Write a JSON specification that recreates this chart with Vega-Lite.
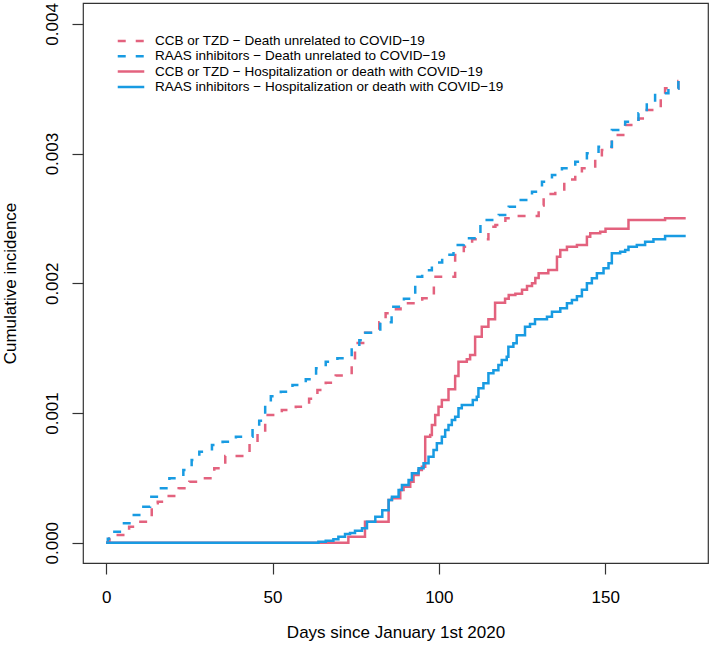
{
"$schema": "https://vega.github.io/schema/vega-lite/v6.json",
"width": 625, "height": 560,
"autosize": {"type": "none"},
"padding": {"left": 83, "top": 3, "right": 1, "bottom": 87},
"background": "white",
"config": {
  "font": "Liberation Sans",
  "view": {"stroke": "#333", "strokeWidth": 1.2},
  "axis": {"grid": false, "domain": false, "tickSize": 11, "tickColor": "#333", "tickWidth": 1.2, "labelColor": "black", "labelFontSize": 17, "titleFontSize": 17, "titleFontWeight": "normal", "titleColor": "black", "labelFlush": false, "labelOverlap": false}
},
"data": {"values": [
{"s":"PD","d":0,"v":0},{"s":"PD","d":1,"v":0.000034},{"s":"PD","d":2.5,"v":0.000059},{"s":"PD","d":6.9,"v":0.000123},{"s":"PD","d":9.8,"v":0.000162},{"s":"PD","d":13.7,"v":0.000304},{"s":"PD","d":15.5,"v":0.000316},{"s":"PD","d":18,"v":0.00036},{"s":"PD","d":21.8,"v":0.00042},{"s":"PD","d":25,"v":0.00047},{"s":"PD","d":29,"v":0.000497},{"s":"PD","d":32.5,"v":0.000574},{"s":"PD","d":35.8,"v":0.000668},{"s":"PD","d":43.1,"v":0.000766},{"s":"PD","d":45.5,"v":0.00085},{"s":"PD","d":47.8,"v":0.000985},{"s":"PD","d":52.8,"v":0.001023},{"s":"PD","d":57,"v":0.001049},{"s":"PD","d":61,"v":0.00111},{"s":"PD","d":63.5,"v":0.001177},{"s":"PD","d":66,"v":0.001234},{"s":"PD","d":69,"v":0.00129},{"s":"PD","d":73.8,"v":0.0014},{"s":"PD","d":74.8,"v":0.00154},{"s":"PD","d":77.8,"v":0.001619},{"s":"PD","d":82.1,"v":0.0017},{"s":"PD","d":84,"v":0.001769},{"s":"PD","d":86.4,"v":0.0018},{"s":"PD","d":88.5,"v":0.001846},{"s":"PD","d":95,"v":0.001884},{"s":"PD","d":98.5,"v":0.00205},{"s":"PD","d":104.9,"v":0.002218},{"s":"PD","d":107.5,"v":0.002282},{"s":"PD","d":110,"v":0.002339},{"s":"PD","d":114.9,"v":0.002436},{"s":"PD","d":117,"v":0.00245},{"s":"PD","d":120,"v":0.002501},{"s":"PD","d":123,"v":0.002518},{"s":"PD","d":130,"v":0.0026},{"s":"PD","d":131.5,"v":0.002689},{"s":"PD","d":135,"v":0.002706},{"s":"PD","d":137.7,"v":0.0028},{"s":"PD","d":141,"v":0.00285},{"s":"PD","d":143,"v":0.002887},{"s":"PD","d":147,"v":0.002964},{"s":"PD","d":149,"v":0.003028},{"s":"PD","d":152,"v":0.003143},{"s":"PD","d":156,"v":0.00322},{"s":"PD","d":160,"v":0.00327},{"s":"PD","d":162,"v":0.003336},{"s":"PD","d":166.7,"v":0.00345},{"s":"PD","d":168,"v":0.003504},{"s":"PD","d":172,"v":0.00356},{"s":"PD","d":174.2,"v":0.00356},
{"s":"RD","d":0,"v":0},{"s":"RD","d":0.5,"v":0.00003},{"s":"RD","d":1.7,"v":0.000085},{"s":"RD","d":4.7,"v":0.00015},{"s":"RD","d":7.5,"v":0.000213},{"s":"RD","d":10.5,"v":0.000278},{"s":"RD","d":13.2,"v":0.000355},{"s":"RD","d":16,"v":0.00042},{"s":"RD","d":19,"v":0.000497},{"s":"RD","d":23.2,"v":0.00056},{"s":"RD","d":25.7,"v":0.000638},{"s":"RD","d":28,"v":0.000702},{"s":"RD","d":31.8,"v":0.000753},{"s":"RD","d":35,"v":0.000779},{"s":"RD","d":39,"v":0.000817},{"s":"RD","d":44,"v":0.000882},{"s":"RD","d":46,"v":0.000941},{"s":"RD","d":47.8,"v":0.001087},{"s":"RD","d":49.5,"v":0.00113},{"s":"RD","d":52.5,"v":0.001164},{"s":"RD","d":56,"v":0.001216},{"s":"RD","d":60,"v":0.00126},{"s":"RD","d":63.1,"v":0.001345},{"s":"RD","d":66,"v":0.001396},{"s":"RD","d":69.5,"v":0.001422},{"s":"RD","d":73.8,"v":0.0015},{"s":"RD","d":76.1,"v":0.00156},{"s":"RD","d":77.5,"v":0.001619},{"s":"RD","d":82.4,"v":0.0017},{"s":"RD","d":85.8,"v":0.00182},{"s":"RD","d":89.5,"v":0.00188},{"s":"RD","d":92.9,"v":0.00205},{"s":"RD","d":95,"v":0.0021},{"s":"RD","d":97.9,"v":0.00216},{"s":"RD","d":101,"v":0.00222},{"s":"RD","d":104.4,"v":0.002295},{"s":"RD","d":107.5,"v":0.002347},{"s":"RD","d":112.5,"v":0.00245},{"s":"RD","d":114,"v":0.002488},{"s":"RD","d":118,"v":0.002527},{"s":"RD","d":121,"v":0.002591},{"s":"RD","d":124,"v":0.002642},{"s":"RD","d":128,"v":0.002706},{"s":"RD","d":131,"v":0.002783},{"s":"RD","d":134,"v":0.002835},{"s":"RD","d":137,"v":0.002887},{"s":"RD","d":141,"v":0.002938},{"s":"RD","d":144.5,"v":0.003002},{"s":"RD","d":148,"v":0.003053},{"s":"RD","d":152,"v":0.003182},{"s":"RD","d":156,"v":0.003246},{"s":"RD","d":160,"v":0.003311},{"s":"RD","d":162.5,"v":0.003388},{"s":"RD","d":165,"v":0.003465},{"s":"RD","d":169,"v":0.0035},{"s":"RD","d":172,"v":0.003567},{"s":"RD","d":174.2,"v":0.003567},
{"s":"PS","d":0,"v":0},{"s":"PS","d":72.8,"v":0.000046},{"s":"PS","d":77.8,"v":0.000162},{"s":"PS","d":84.9,"v":0.00033},{"s":"PS","d":85.9,"v":0.000342},{"s":"PS","d":88.4,"v":0.000406},{"s":"PS","d":89.4,"v":0.000432},{"s":"PS","d":91.4,"v":0.00047},{"s":"PS","d":92.4,"v":0.000522},{"s":"PS","d":93.9,"v":0.00056},{"s":"PS","d":94.9,"v":0.000586},{"s":"PS","d":95.9,"v":0.000817},{"s":"PS","d":97.4,"v":0.00083},{"s":"PS","d":97.9,"v":0.000907},{"s":"PS","d":98.9,"v":0.000985},{"s":"PS","d":99.9,"v":0.001049},{"s":"PS","d":100.9,"v":0.0011},{"s":"PS","d":102.9,"v":0.001183},{"s":"PS","d":104.9,"v":0.001285},{"s":"PS","d":105.9,"v":0.001396},{"s":"PS","d":108.4,"v":0.001414},{"s":"PS","d":109.4,"v":0.001447},{"s":"PS","d":110.9,"v":0.001588},{"s":"PS","d":112.9,"v":0.001665},{"s":"PS","d":114.9,"v":0.001722},{"s":"PS","d":116.9,"v":0.00185},{"s":"PS","d":119.9,"v":0.00188},{"s":"PS","d":121,"v":0.00191},{"s":"PS","d":123,"v":0.00192},{"s":"PS","d":125,"v":0.00195},{"s":"PS","d":126.5,"v":0.00198},{"s":"PS","d":128,"v":0.002},{"s":"PS","d":129,"v":0.00204},{"s":"PS","d":130,"v":0.002077},{"s":"PS","d":132.9,"v":0.002103},{"s":"PS","d":135.5,"v":0.002205},{"s":"PS","d":136.5,"v":0.002257},{"s":"PS","d":138.5,"v":0.002282},{"s":"PS","d":141.5,"v":0.002295},{"s":"PS","d":144.5,"v":0.002359},{"s":"PS","d":145.5,"v":0.002385},{"s":"PS","d":148.5,"v":0.002398},{"s":"PS","d":150.1,"v":0.00242},{"s":"PS","d":157,"v":0.002488},{"s":"PS","d":168,"v":0.002501},{"s":"PS","d":174.2,"v":0.002501},
{"s":"RS","d":0,"v":0},{"s":"RS","d":63.8,"v":0.000008},{"s":"RS","d":66,"v":0.000015},{"s":"RS","d":68.3,"v":0.000026},{"s":"RS","d":69.8,"v":0.000046},{"s":"RS","d":71.8,"v":0.000067},{"s":"RS","d":73.3,"v":0.000075},{"s":"RS","d":74.8,"v":0.000093},{"s":"RS","d":76.9,"v":0.000111},{"s":"RS","d":78.4,"v":0.000162},{"s":"RS","d":80.9,"v":0.0002},{"s":"RS","d":83,"v":0.00025},{"s":"RS","d":84.9,"v":0.00033},{"s":"RS","d":85.9,"v":0.000355},{"s":"RS","d":87.9,"v":0.000406},{"s":"RS","d":88.9,"v":0.000445},{"s":"RS","d":90.9,"v":0.000483},{"s":"RS","d":91.9,"v":0.000535},{"s":"RS","d":93.9,"v":0.000574},{"s":"RS","d":95.4,"v":0.000612},{"s":"RS","d":96.9,"v":0.000663},{"s":"RS","d":98.4,"v":0.000715},{"s":"RS","d":99.4,"v":0.000766},{"s":"RS","d":100.9,"v":0.000817},{"s":"RS","d":101.9,"v":0.000869},{"s":"RS","d":102.9,"v":0.000907},{"s":"RS","d":103.9,"v":0.000946},{"s":"RS","d":104.9,"v":0.000971},{"s":"RS","d":105.9,"v":0.001036},{"s":"RS","d":106.9,"v":0.001062},{"s":"RS","d":110.2,"v":0.0011},{"s":"RS","d":111.4,"v":0.001126},{"s":"RS","d":111.9,"v":0.00119},{"s":"RS","d":113.4,"v":0.001229},{"s":"RS","d":114.9,"v":0.001306},{"s":"RS","d":116.4,"v":0.00133},{"s":"RS","d":117.9,"v":0.00137},{"s":"RS","d":118.9,"v":0.001409},{"s":"RS","d":120.4,"v":0.001434},{"s":"RS","d":120.9,"v":0.001511},{"s":"RS","d":122.4,"v":0.001537},{"s":"RS","d":123.4,"v":0.0016},{"s":"RS","d":125.9,"v":0.001665},{"s":"RS","d":127.4,"v":0.001686},{"s":"RS","d":128.9,"v":0.001722},{"s":"RS","d":132.5,"v":0.001742},{"s":"RS","d":134,"v":0.001781},{"s":"RS","d":136.5,"v":0.001807},{"s":"RS","d":138.5,"v":0.001846},{"s":"RS","d":140,"v":0.001871},{"s":"RS","d":141.5,"v":0.0019},{"s":"RS","d":143,"v":0.00195},{"s":"RS","d":144.5,"v":0.002},{"s":"RS","d":146,"v":0.002039},{"s":"RS","d":147.5,"v":0.002077},{"s":"RS","d":149.5,"v":0.002116},{"s":"RS","d":151,"v":0.002154},{"s":"RS","d":152,"v":0.002231},{"s":"RS","d":154.5,"v":0.002244},{"s":"RS","d":156,"v":0.002257},{"s":"RS","d":157,"v":0.002282},{"s":"RS","d":159.5,"v":0.002295},{"s":"RS","d":162,"v":0.002321},{"s":"RS","d":164.5,"v":0.002339},{"s":"RS","d":168,"v":0.002365},{"s":"RS","d":174.2,"v":0.002365}
]},
"transform": [
  {"lookup": "s", "from": {"data": {"values": [
    {"s": "PD", "series": "CCB or TZD − Death unrelated to COVID−19"},
    {"s": "RD", "series": "RAAS inhibitors − Death unrelated to COVID−19"},
    {"s": "PS", "series": "CCB or TZD − Hospitalization or death with COVID−19"},
    {"s": "RS", "series": "RAAS inhibitors − Hospitalization or death with COVID−19"}
  ]}, "key": "s", "fields": ["series"]}}
],
"mark": {"type": "line", "interpolate": "step-after", "strokeWidth": 2.5, "strokeCap": "butt"},
"encoding": {
  "x": {"field": "d", "type": "quantitative",
    "scale": {"domain": [-6.96, 180.9], "nice": false, "zero": false},
    "axis": {"values": [0, 50, 100, 150], "labelAlign": "center", "labelBaseline": "alphabetic", "labelPadding": 28,
      "title": "Days since January 1st 2020", "titleX": 312.5, "titleY": 74, "titleAlign": "center", "titleBaseline": "alphabetic", "titleAnchor": null}},
  "y": {"field": "v", "type": "quantitative",
    "scale": {"domain": [-0.0001565, 0.0041612], "nice": false, "zero": false},
    "axis": {"values": [0, 0.001, 0.002, 0.003, 0.004], "format": ".3f", "labelAngle": 270, "labelAlign": "center", "labelBaseline": "alphabetic", "labelPadding": 15,
      "title": "Cumulative incidence", "titleAngle": 270, "titleX": -68, "titleY": 280, "titleAlign": "center", "titleBaseline": "alphabetic"}},
  "color": {"field": "series", "type": "nominal",
    "scale": {"domain": ["CCB or TZD − Death unrelated to COVID−19", "RAAS inhibitors − Death unrelated to COVID−19", "CCB or TZD − Hospitalization or death with COVID−19", "RAAS inhibitors − Hospitalization or death with COVID−19"],
      "range": ["#E3627E", "#189BE2", "#E3627E", "#189BE2"]},
    "legend": {"orient": "none", "legendX": 40, "legendY": 30, "title": null, "padding": 0, "symbolType": "M-2,0H2", "symbolSize": 176, "symbolStrokeWidth": 2.5, "labelFontSize": 13.5, "labelColor": "black", "labelOffset": 16, "labelLimit": 600, "rowPadding": 0.3}},
  "strokeDash": {"field": "series", "type": "nominal",
    "scale": {"domain": ["CCB or TZD − Death unrelated to COVID−19", "RAAS inhibitors − Death unrelated to COVID−19", "CCB or TZD − Hospitalization or death with COVID−19", "RAAS inhibitors − Hospitalization or death with COVID−19"],
      "range": [[8, 10], [8, 10], [1, 0], [1, 0]]},
    "legend": {"orient": "none", "legendX": 40, "legendY": 30, "title": null, "padding": 0, "symbolType": "M-2,0H2", "symbolSize": 176, "symbolStrokeWidth": 2.5, "labelFontSize": 13.5, "labelColor": "black", "labelOffset": 16, "labelLimit": 600, "rowPadding": 0.3}}
}
}
